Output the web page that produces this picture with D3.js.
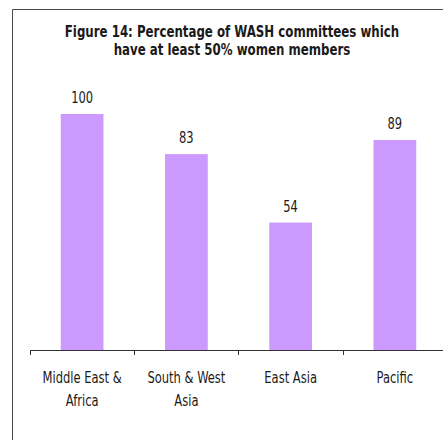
<!DOCTYPE html>
<html>
<head>
<meta charset="utf-8">
<script src="https://cdn.jsdelivr.net/npm/d3@7"></script>
<style>
  html, body { margin: 0; padding: 0; background: #fff; }
  text { fill: #1a1a1a; }
</style>
</head>
<body>
<script>
// data
const regions = ['Middle East & Africa', 'South & West Asia', 'East Asia', 'Pacific'];
const regionLines = [['Middle East &', 'Africa'], ['South & West', 'Asia'], ['East Asia'], ['Pacific']];
const percents = [100, 83, 54, 89];
const titleLines = ['Figure 14: Percentage of WASH committees which', 'have at least 50% women members'];

const width = 443, height = 440;

let svg = d3.select('body').append('svg')
    .attr('width', width)
    .attr('height', height);

// frame (left + top edge, rest falls off the picture)
svg.append('path')
    .attr('d', 'M12.5,' + height + 'V9.5H' + width)
    .attr('fill', 'none')
    .attr('stroke', '#4a4a4a')
    .attr('stroke-width', 1);

let x = d3.scaleBand()
    .domain(regions)
    .range([30, 447])
    .paddingInner(0.59)
    .paddingOuter(0.295);

let y = d3.scaleLinear()
    .domain([0, 100])
    .range([350, 114]);

// squeeze text horizontally like the original (it was scaled narrow)
function squeeze(sel, k) {
    sel.each(function() {
        const w = this.getComputedTextLength();
        d3.select(this)
            .attr('textLength', w * k)
            .attr('lengthAdjust', 'spacingAndGlyphs');
    });
}

// title, narrowed with a horizontal scale
svg.append('g')
    .attr('transform', 'translate(232,0) scale(0.82,1)')
    .selectAll('text')
    .data(titleLines)
    .enter()
    .append('text')
    .attr('x', 0)
    .attr('y', (d, i) => 37 + i * 18)
    .attr('text-anchor', 'middle')
    .attr('font-family', 'DejaVu Sans Condensed, DejaVu Sans')
    .attr('font-weight', 'bold')
    .attr('font-size', 16)
    .text(d => d);

// bars
svg.append('g').selectAll('rect')
    .data(percents)
    .enter()
    .append('rect')
    .attr('x', (d, i) => x(regions[i]))
    .attr('y', d => y(d))
    .attr('width', x.bandwidth())
    .attr('height', d => y(0) - y(d))
    .attr('fill', '#cc99ff');

// value labels
svg.append('g').selectAll('text')
    .data(percents)
    .enter()
    .append('text')
    .attr('x', (d, i) => x(regions[i]) + x.bandwidth() / 2)
    .attr('y', d => y(d) - 11)
    .attr('text-anchor', 'middle')
    .attr('font-family', 'DejaVu Sans Condensed, DejaVu Sans')
    .attr('font-size', 15)
    .text(d => d)
    .call(squeeze, 0.85);

// category axis, ticks sit between categories
const step = x.step();
const edges = regions.map(r => x(r) - x.paddingInner() * step / 2).concat([x.range()[1]]);
let axis = svg.append('g');
axis.append('line')
    .attr('x1', edges[0])
    .attr('x2', width)
    .attr('y1', y(0) + 0.5)
    .attr('y2', y(0) + 0.5)
    .attr('stroke', '#333')
    .attr('stroke-width', 1.2);
axis.selectAll('.tick')
    .data(edges)
    .enter()
    .append('line')
    .attr('class', 'tick')
    .attr('x1', d => Math.round(d) + 0.5)
    .attr('x2', d => Math.round(d) + 0.5)
    .attr('y1', y(0))
    .attr('y2', y(0) + 5)
    .attr('stroke', '#333');

let labels = axis.selectAll('.cat')
    .data(regionLines)
    .enter()
    .append('text')
    .attr('class', 'cat')
    .attr('transform', (d, i) => 'translate(' + (x(regions[i]) + x.bandwidth() / 2) + ',383)')
    .attr('text-anchor', 'middle')
    .attr('font-family', 'DejaVu Sans Condensed, DejaVu Sans')
    .attr('font-size', 16);

labels.selectAll('tspan')
    .data(d => d)
    .enter()
    .append('tspan')
    .attr('x', 0)
    .attr('y', (d, i) => i * 23)
    .text(d => d);

labels.selectAll('tspan').call(squeeze, 0.8);
</script>
</body>
</html>
